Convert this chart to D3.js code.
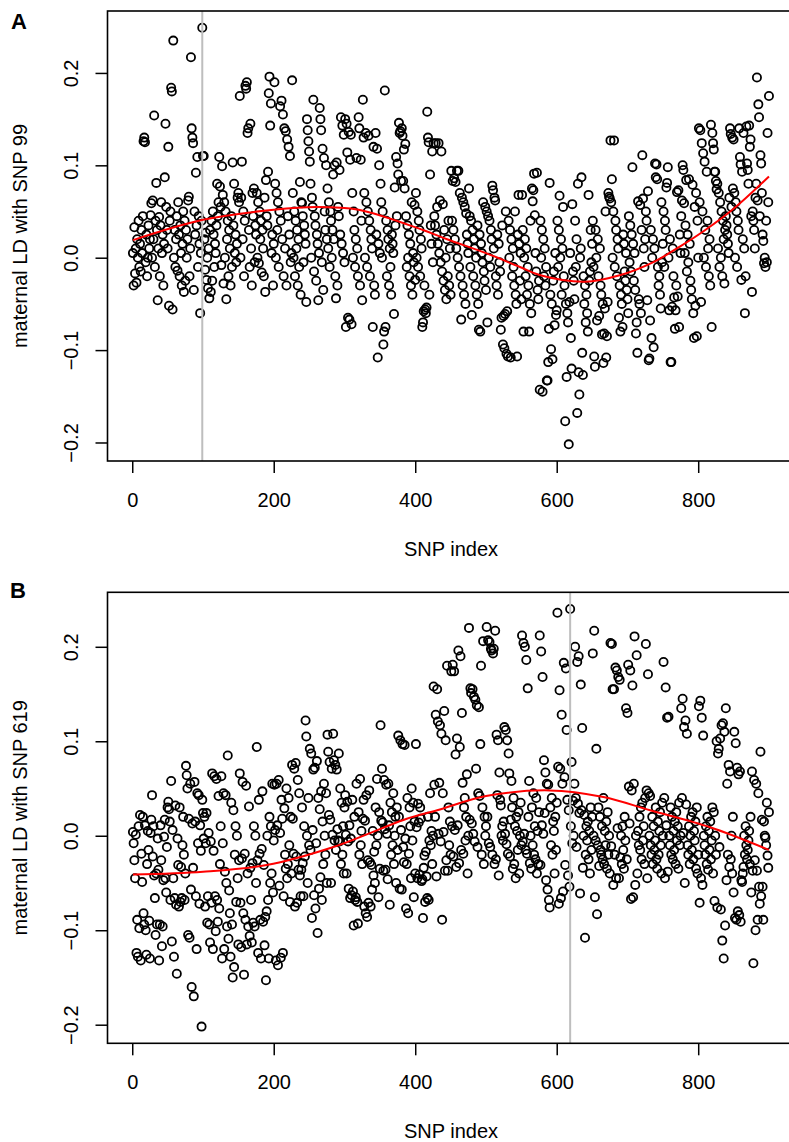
<!DOCTYPE html>
<html>
<head>
<meta charset="utf-8">
<script src="https://cdn.jsdelivr.net/npm/d3@7"></script>
<style>
  body { margin: 0; background: #fff; }
  text { font-family: "Liberation Sans", Arial, Helvetica, sans-serif; }
</style>
</head>
<body>
<svg id="fig" width="789" height="1142"></svg>
<script>
// Axis tick values shared by both panels
const xTicks = [0, 200, 400, 600, 800];
const yTicks = [-0.2, -0.1, 0, 0.1, 0.2];

// Focal SNPs (vertical reference lines)
const focalA = 99;
const focalB = 619;

// Panel A: maternal LD of every SNP (index 1..900) with SNP 99
const ldA = [
  0.005,-0.03,0.033,-0.017,0.01,-0.027,0.02,0.0,0.04,-0.01,0.015,-0.015,0.03,0.005,0.045,0.126,0.13,0.125,-0.005,0.025,-0.02,0.0,0.035,0.01,0.02,
  0.046,0.059,0.0,0.062,0.02,0.154,-0.01,0.04,0.081,0.03,-0.046,0.01,0.044,-0.02,0.035,0.06,0.005,0.025,-0.03,0.015,0.087,0.145,0.055,0.03,0.01,
  0.12,-0.052,0.04,0.05,0.184,0.18,-0.056,0.235,0.0,0.03,-0.01,0.02,0.045,-0.014,0.06,0.025,-0.02,0.035,0.005,-0.03,0.015,0.05,-0.037,0.04,-0.025,
  0.03,0.0,0.02,0.062,0.066,-0.02,0.01,0.217,0.14,0.13,0.124,-0.035,0.05,0.025,0.092,0.035,0.109,-0.01,0.045,0.015,-0.06,0.005,0.04,0.249,0.11,
  0.11,0.02,-0.013,0.027,-0.024,0.0,-0.033,0.01,-0.044,0.03,-0.037,0.04,-0.025,0.05,0.025,-0.01,0.015,0.005,0.035,0.08,0.045,0.06,0.109,0.077,0.055,
  -0.008,0.099,0.068,-0.028,0.06,0.0,0.05,-0.045,0.02,0.04,-0.02,0.03,0.01,-0.03,0.045,-0.01,0.103,0.035,0.08,0.005,0.025,-0.005,0.015,0.065,0.07,
  0.06,0.175,0.0,0.065,0.104,0.02,0.05,-0.02,0.04,0.186,0.183,0.19,0.135,0.14,0.03,-0.01,0.145,0.01,-0.03,0.07,0.045,0.075,-0.005,0.035,0.025,
  0.07,0.0,0.06,-0.006,0.05,0.02,0.04,-0.016,0.03,0.01,-0.02,0.065,-0.037,0.084,0.045,0.035,0.093,0.178,0.196,0.143,0.167,0.005,0.025,-0.03,0.015,
  0.19,0.08,0.0,0.07,0.03,0.06,-0.01,0.05,0.164,0.04,0.17,0.02,0.155,-0.02,0.14,0.01,0.137,-0.03,0.128,0.045,0.12,0.025,0.11,-0.005,0.005,
  0.192,0.07,0.0,0.05,-0.02,0.04,0.01,0.03,-0.03,0.02,-0.01,0.082,-0.04,0.06,0.059,0.045,-0.005,0.035,0.025,0.015,-0.048,0.15,0.138,0.126,0.115,
  0.104,0.08,0.0,0.065,0.055,0.171,-0.015,0.045,0.035,-0.025,0.025,0.015,-0.046,0.005,0.162,0.15,0.138,-0.005,0.118,-0.035,0.108,0.05,0.03,0.1,0.02,
  0.075,0.01,0.06,-0.01,0.05,0.04,0.0,0.03,0.09,0.02,0.1,-0.02,-0.044,0.103,-0.03,0.055,0.045,0.095,0.025,0.152,0.015,0.143,0.005,0.133,-0.005,
  0.15,-0.075,0.145,0.114,-0.065,0.136,-0.067,0.106,0.133,-0.072,0.07,0.0,0.05,0.03,-0.01,0.02,0.108,0.01,-0.02,0.152,0.14,-0.03,0.106,0.04,-0.046,
  0.171,0.13,0.07,0.0,0.135,0.06,-0.01,0.05,0.132,0.04,-0.02,0.03,0.02,0.01,-0.075,0.12,-0.03,-0.04,0.135,0.025,0.118,-0.108,0.015,0.1,0.005,
  0.08,0.06,0.0,0.05,-0.094,-0.08,0.181,-0.075,0.04,-0.02,0.03,0.02,-0.03,0.01,-0.01,-0.04,0.025,0.015,0.005,-0.061,0.076,0.035,0.109,0.045,0.102,
  0.09,0.146,0.135,0.137,0.083,0.14,0.132,0.083,0.117,0.075,0.123,0.045,-0.01,0.035,0.0,0.025,-0.02,0.015,-0.03,0.06,-0.04,0.005,-0.005,0.057,-0.024,
  0.07,0.0,0.05,-0.01,0.04,0.03,-0.02,0.02,0.01,-0.075,-0.07,-0.058,-0.03,-0.056,-0.06,-0.054,0.158,0.13,0.125,-0.04,0.09,0.035,0.015,0.115,-0.005,
  0.124,0.045,0.035,0.124,0.025,0.055,0.015,0.124,0.005,0.062,-0.005,0.115,-0.015,0.058,-0.025,0.03,-0.035,0.0,-0.045,0.02,-0.02,0.04,-0.03,0.01,-0.04,
  0.094,0.04,0.083,0.03,0.086,0.02,0.082,0.01,0.094,0.0,0.094,-0.01,0.07,-0.02,-0.067,0.065,-0.03,0.06,-0.04,0.055,-0.05,0.048,0.025,0.015,0.005,
  0.075,0.045,-0.01,0.04,-0.062,0.03,-0.02,0.02,0.01,-0.03,0.0,-0.04,0.035,-0.05,-0.078,0.025,-0.08,0.015,0.005,-0.005,0.06,-0.015,-0.025,0.055,-0.035,
  0.05,-0.07,0.045,0.0,0.04,-0.01,0.03,0.02,0.078,0.073,0.01,0.065,0.062,-0.02,-0.03,0.025,-0.04,0.015,-0.005,-0.015,-0.078,-0.065,0.035,-0.094,-0.063,
  -0.098,-0.061,0.05,-0.104,-0.058,-0.107,0.04,0.0,0.03,-0.108,0.02,-0.02,0.01,-0.01,-0.03,0.05,-0.04,-0.05,-0.107,0.025,0.068,0.015,-0.025,0.005,-0.045,
  0.068,0.03,-0.08,0.0,0.02,-0.02,0.01,-0.04,-0.01,-0.03,-0.08,-0.05,0.04,-0.06,0.075,0.061,0.073,0.091,0.046,0.005,-0.015,0.092,-0.035,-0.045,-0.025,
  -0.143,0.04,0.0,0.03,-0.145,0.02,-0.02,0.01,-0.03,-0.01,-0.133,-0.133,-0.113,-0.077,0.081,-0.04,-0.099,-0.05,-0.11,-0.025,-0.015,-0.073,0.005,-0.062,-0.057,
  0.04,-0.01,0.03,0.067,0.0,0.02,-0.04,0.01,0.055,-0.02,-0.03,-0.177,-0.05,-0.129,-0.06,-0.07,-0.202,-0.048,0.005,-0.087,-0.12,0.058,-0.015,-0.025,-0.045,
  0.04,-0.01,0.02,-0.168,0.08,-0.124,-0.148,0.0,0.01,0.087,-0.103,-0.127,-0.02,-0.05,-0.03,-0.07,-0.04,-0.06,-0.08,0.068,-0.025,-0.015,0.03,-0.005,0.015,
  0.04,-0.01,-0.107,-0.118,0.03,0.0,-0.068,0.02,-0.02,-0.063,0.01,-0.03,-0.04,-0.083,-0.05,-0.114,-0.082,-0.055,0.05,-0.108,-0.085,-0.048,0.07,0.066,0.064,
  0.127,0.06,0.085,0.0,0.05,0.127,-0.01,0.04,0.03,-0.02,0.02,0.01,-0.065,-0.03,-0.08,-0.04,-0.05,-0.075,0.025,0.015,-0.015,-0.025,0.005,-0.035,-0.045,
  -0.06,0.045,-0.005,0.035,-0.015,0.025,0.098,0.015,-0.025,0.005,-0.035,-0.082,-0.07,-0.103,0.061,-0.045,-0.05,0.057,-0.06,0.03,0.111,0.064,0.01,-0.01,0.02,
  0.05,0.04,-0.046,0.072,-0.111,-0.109,-0.068,0.03,-0.087,0.0,0.02,-0.097,0.01,0.102,0.087,0.101,0.085,-0.01,-0.03,-0.02,-0.04,-0.055,0.06,-0.005,0.015,
  0.05,-0.01,0.04,0.03,0.076,0.081,0.098,0.0,-0.057,0.02,-0.113,-0.113,-0.053,0.01,-0.02,-0.043,-0.077,-0.057,-0.03,0.071,-0.042,0.073,-0.075,0.025,0.005,
  0.045,0.062,0.1,0.095,0.059,0.005,0.035,0.084,-0.015,0.025,-0.005,0.085,0.015,-0.025,-0.035,-0.045,0.079,-0.06,-0.087,0.055,-0.052,0.07,-0.085,0.04,0.0,
  0.14,0.06,0.138,-0.048,0.124,0.05,0.113,0.0,0.104,0.03,-0.01,0.093,0.04,0.01,-0.02,0.02,-0.03,0.144,-0.075,0.135,0.124,0.117,0.093,0.093,0.083,
  0.074,0.08,0.01,0.07,-0.01,0.06,0.0,0.05,-0.02,0.04,0.02,-0.028,0.03,0.045,0.035,0.025,0.015,0.005,0.065,0.14,0.134,0.055,0.13,0.075,0.128,
  0.07,0.0,0.06,0.05,-0.01,0.04,0.03,0.14,0.109,0.101,-0.024,0.093,0.02,0.135,0.01,-0.06,-0.02,0.142,0.102,0.095,0.08,0.143,0.12,0.128,0.045,
  -0.037,0.05,0.04,0.03,0.01,0.065,0.08,0.195,0.062,0.166,0.152,0.045,0.111,0.102,0.07,0.025,0.018,-0.006,0.0,-0.01,0.04,-0.005,0.135,0.06,0.175
];

// Panel B: maternal LD of every SNP (index 1..900) with SNP 619
const ldB = [
  0.004,-0.008,-0.026,-0.045,0.001,-0.124,-0.089,-0.128,0.01,-0.098,0.022,-0.132,-0.019,-0.049,0.02,-0.082,-0.094,0.011,-0.1,-0.126,-0.03,0.005,-0.015,-0.09,-0.13,
  0.003,0.017,0.043,-0.022,0.01,-0.042,-0.066,-0.105,-0.04,-0.094,-0.003,-0.036,-0.132,-0.094,0.011,-0.026,-0.117,-0.096,-0.047,-0.001,0.017,-0.045,-0.06,-0.012,0.03,
  0.036,0.028,0.015,-0.068,0.058,-0.112,0.006,-0.045,-0.128,-0.066,0.032,-0.073,-0.146,-0.003,-0.031,-0.075,0.03,-0.07,-0.033,-0.066,-0.01,0.02,-0.02,-0.068,-0.04,
  0.074,0.064,0.05,-0.105,0.018,-0.108,0.055,-0.057,-0.16,0.013,-0.034,-0.17,0.057,0.015,-0.064,-0.12,0.045,-0.008,0.043,-0.072,0.011,-0.016,-0.202,0.038,0.024,
  -0.003,0.02,-0.075,-0.008,0.024,-0.092,-0.064,0.003,-0.094,-0.113,-0.006,-0.071,0.066,-0.12,-0.016,0.063,-0.064,-0.101,0.06,-0.068,-0.091,0.042,-0.077,-0.03,0.01,
  0.063,-0.13,-0.008,0.045,-0.12,-0.038,0.043,-0.05,-0.096,0.085,-0.109,-0.058,-0.082,-0.128,0.035,-0.094,-0.15,0.027,-0.139,-0.02,0.01,-0.07,0.0,-0.045,-0.115,
  -0.026,0.066,-0.071,-0.118,-0.024,0.057,-0.082,-0.147,-0.019,-0.089,0.053,-0.115,-0.04,-0.096,0.031,-0.106,-0.034,-0.068,-0.113,-0.029,-0.092,0.01,-0.096,0.0,-0.05,
  0.094,-0.026,-0.124,0.038,-0.019,-0.089,-0.13,-0.014,0.047,-0.091,-0.031,-0.116,-0.086,-0.153,-0.08,0.0,-0.068,-0.13,0.02,-0.05,0.01,-0.04,0.055,-0.06,-0.005,
  0.054,0.006,-0.132,0.055,0.011,-0.137,0.059,-0.053,0.003,-0.129,0.038,0.018,-0.124,-0.064,0.029,-0.02,-0.035,0.05,-0.045,-0.03,0.04,-0.01,-0.07,0.02,-0.04,
  0.075,0.018,-0.019,0.071,-0.075,0.077,-0.022,-0.071,0.059,-0.036,0.045,-0.042,-0.064,-0.036,0.03,-0.029,-0.064,0.01,-0.022,0.122,0.105,0.0,-0.05,0.04,-0.01,
  0.092,-0.015,0.087,-0.087,0.006,0.07,-0.063,0.072,-0.077,-0.008,0.079,-0.103,0.04,-0.056,0.028,-0.044,0.047,-0.068,0.015,-0.03,0.055,0.0,-0.02,0.045,-0.05,
  0.107,0.089,0.022,0.078,0.017,-0.05,0.071,0.001,0.108,0.08,-0.005,0.075,-0.015,0.07,0.007,-0.005,0.087,-0.006,0.05,-0.03,0.035,-0.02,0.01,-0.04,0.03,
  0.043,0.001,-0.04,0.036,-0.006,-0.056,0.011,-0.066,-0.003,-0.063,0.038,-0.059,-0.095,0.02,-0.068,-0.065,0.055,-0.07,-0.093,0.025,-0.02,0.06,-0.01,0.005,-0.03,
  0.018,0.038,-0.075,0.016,-0.082,0.043,-0.086,-0.026,-0.071,0.048,-0.028,-0.075,-0.031,-0.057,0.005,-0.042,-0.017,-0.05,0.03,-0.01,0.06,0.0,-0.065,0.025,-0.035,
  0.117,0.016,0.071,0.014,-0.037,0.059,0.007,-0.036,0.054,0.002,-0.046,0.055,0.011,-0.073,0.035,-0.02,0.025,-0.01,0.045,-0.03,0.0,0.02,-0.05,0.03,-0.015,
  0.106,0.02,-0.056,0.101,0.006,-0.057,0.097,-0.012,-0.028,0.096,-0.003,-0.077,-0.03,0.04,-0.082,-0.019,0.03,0.01,-0.045,0.05,-0.005,0.035,-0.065,0.015,-0.04,
  0.097,0.009,-0.045,0.034,0.014,-0.041,0.03,0.018,-0.048,-0.046,-0.087,-0.034,-0.021,-0.07,-0.017,-0.043,-0.066,0.02,-0.068,-0.005,0.045,-0.01,0.005,-0.03,0.0,
  0.158,0.054,0.02,0.128,-0.043,0.155,0.121,0.002,0.056,0.117,-0.006,0.108,-0.089,0.045,0.004,0.132,-0.037,0.101,-0.026,0.18,-0.037,0.03,-0.01,0.015,-0.02,
  0.174,0.01,0.181,-0.022,0.174,0.006,0.086,-0.033,0.103,0.011,0.196,-0.029,0.094,0.19,-0.015,0.13,0.056,-0.019,0.03,0.04,-0.005,0.02,0.065,-0.04,0.0,
  0.22,0.017,0.156,0.151,0.013,0.155,0.002,0.147,-0.006,0.144,0.071,0.138,-0.012,0.045,0.136,0.042,0.097,0.18,-0.02,0.03,0.206,-0.03,0.02,0.0,0.01,
  0.221,0.02,0.207,-0.008,0.205,-0.012,0.198,0.196,-0.02,0.193,0.198,-0.03,0.217,-0.025,0.107,0.043,0.101,-0.042,0.067,0.038,0.032,0.0,0.01,-0.005,0.015,
  0.115,0.002,0.112,-0.009,0.101,-0.019,0.087,0.066,-0.022,0.017,0.058,0.03,-0.035,0.04,-0.03,0.01,-0.045,0.02,0.005,-0.015,0.025,-0.04,0.0,0.035,-0.01,
  0.212,-0.006,0.204,0.002,0.2,-0.015,0.186,-0.019,0.156,0.02,0.058,-0.029,0.0,-0.035,0.03,-0.01,0.045,-0.02,0.01,-0.025,0.04,-0.04,0.005,-0.03,0.025,
  0.212,-0.031,0.195,0.011,0.168,0.002,0.08,0.024,0.067,-0.047,0.055,-0.057,0.054,-0.068,-0.076,0.03,-0.01,0.04,-0.02,0.015,0.005,-0.04,0.02,-0.015,0.035,
  0.236,0.073,-0.072,0.154,0.071,-0.066,0.128,0.055,-0.059,0.183,0.062,-0.031,0.177,0.112,0.038,-0.042,0.027,-0.054,0.24,0.01,0.078,-0.008,0.037,0.0,0.055,
  0.2,0.04,-0.012,0.184,0.034,0.19,0.024,-0.061,0.16,0.027,0.114,-0.034,0.0,0.022,-0.108,-0.02,0.01,-0.005,0.015,-0.025,0.005,-0.04,0.03,-0.015,0.02,
  0.193,0.0,0.217,-0.065,-0.005,0.092,-0.083,-0.01,0.03,-0.032,0.02,-0.015,-0.02,0.01,-0.025,0.04,-0.03,0.005,-0.01,0.015,-0.035,0.025,-0.02,0.0,-0.04,
  0.204,-0.011,0.203,0.155,-0.052,0.155,-0.02,0.178,-0.045,0.175,0.008,0.168,-0.045,0.165,-0.023,0.0,-0.03,0.01,-0.015,-0.035,0.02,-0.005,0.135,-0.025,0.13,
  0.181,0.052,0.013,0.175,-0.067,0.048,0.159,-0.065,0.055,0.211,-0.052,0.0,0.191,-0.04,0.005,-0.01,0.02,-0.015,0.03,-0.025,0.035,-0.005,0.01,-0.03,0.04,
  0.203,0.048,-0.045,0.171,0.045,0.0,0.042,-0.01,-0.02,0.02,-0.03,0.01,-0.015,-0.005,0.03,-0.025,-0.035,0.015,-0.02,0.005,0.025,-0.01,-0.04,0.035,0.0,
  0.184,0.04,-0.045,0.157,0.011,0.125,-0.038,0.126,0.0,-0.01,0.03,-0.02,0.02,-0.025,0.005,-0.015,0.015,-0.03,0.025,-0.005,0.01,-0.035,0.035,-0.01,0.0,
  0.135,0.04,0.145,0.003,0.115,-0.05,0.122,0.033,0.108,-0.01,-0.02,0.01,-0.03,0.0,0.02,-0.015,0.025,-0.025,0.005,-0.005,0.015,-0.035,0.03,-0.04,-0.02,
  0.137,-0.071,0.143,-0.045,0.125,-0.052,0.106,0.0,-0.01,-0.02,0.01,-0.03,0.02,-0.036,0.005,-0.015,0.015,-0.025,-0.005,0.03,-0.04,0.025,-0.069,0.0,-0.02,
  0.1,-0.076,0.087,0.092,-0.012,0.103,-0.078,0.117,-0.111,0.119,-0.13,0.11,-0.095,0.135,-0.047,0.055,-0.02,0.075,-0.033,0.068,-0.025,0.0,-0.04,0.02,-0.06,
  0.11,-0.087,0.098,-0.089,0.072,-0.08,0.065,-0.084,0.068,-0.091,-0.047,-0.049,-0.04,-0.033,0.0,-0.02,0.01,-0.01,-0.025,-0.015,-0.005,0.005,-0.03,0.02,-0.06,
  0.068,-0.037,-0.135,0.059,-0.026,-0.1,0.055,-0.037,-0.089,0.045,-0.054,-0.072,0.089,-0.064,0.017,-0.054,-0.089,0.015,0.0,-0.002,-0.01,0.035,-0.021,-0.034,0.025
];

// Smoothed trend (red curve) knots: SNP index and LD
const trendAx = [1, 100, 200, 260, 320, 411, 445, 500, 548, 577, 640, 689, 736, 774, 810, 850, 900];
const trendAy = [0.019, 0.041, 0.052, 0.055, 0.052, 0.03, 0.02, 0.005, -0.01, -0.019, -0.026, -0.019, -0.005, 0.012, 0.03, 0.053, 0.088];
const trendBx = [1, 100, 190, 280, 350, 388, 431, 500, 590, 666, 732, 817, 900];
const trendBy = [-0.041, -0.038, -0.031, -0.013, 0.007, 0.018, 0.027, 0.042, 0.048, 0.041, 0.027, 0.009, -0.015];

const svg = d3.select("#fig");
const minus = v => (v < 0 ? "\u2212" : "") + Math.abs(v).toFixed(1);

// R-style axis range: data range extended by 4% on each side
function padded(ext) {
  const d = (ext[1] - ext[0]) * 0.04;
  return [ext[0] - d, ext[1] + d];
}

function drawPanel(cfg) {
  const g = svg.append("g");
  const left = 107.5, right = 794.4;
  const n = cfg.ld.length;

  const x = d3.scaleLinear().domain(padded([1, n])).range([left, right]);
  const y = d3.scaleLinear().domain(padded(d3.extent(cfg.ld))).range([cfg.bottom, cfg.top]);

  // points
  g.append("g").selectAll("circle")
    .data(cfg.ld)
    .join("circle")
    .attr("cx", (d, i) => x(i + 1))
    .attr("cy", d => y(d))
    .attr("r", 4.1)
    .attr("fill", "none")
    .attr("stroke", "#000")
    .attr("stroke-width", 1.8);

  // focal SNP marker
  g.append("line")
    .attr("x1", x(cfg.focal)).attr("x2", x(cfg.focal))
    .attr("y1", cfg.top).attr("y2", cfg.bottom)
    .attr("stroke", "#bebebe")
    .attr("stroke-width", 2);

  // smoothed trend
  const knots = cfg.tx.map((v, i) => [v, cfg.ty[i]]);
  g.append("path")
    .datum(knots)
    .attr("fill", "none")
    .attr("stroke", "#ff0000")
    .attr("stroke-width", 2)
    .attr("d", d3.line().x(d => x(d[0])).y(d => y(d[1])).curve(d3.curveCatmullRom.alpha(0.5)));

  // plot frame
  g.append("rect")
    .attr("x", left).attr("y", cfg.top)
    .attr("width", right - left).attr("height", cfg.bottom - cfg.top)
    .attr("fill", "none").attr("stroke", "#000").attr("stroke-width", 1.6);

  // x axis
  const xa = g.append("g")
    .attr("transform", `translate(0,${cfg.bottom})`)
    .call(d3.axisBottom(x).tickValues(xTicks).tickSize(12).tickFormat(d3.format("d")));
  xa.select(".domain").remove();
  xa.selectAll("line").attr("stroke", "#000").attr("stroke-width", 1.5);
  xa.selectAll("text")
    .attr("y", 0).attr("dy", null)
    .attr("transform", "translate(0,46)")
    .attr("font-size", 20).attr("fill", "#000")
    .attr("font-family", "Liberation Sans, Arial, sans-serif");

  // y axis (labels parallel to the axis)
  const ya = g.append("g")
    .attr("transform", `translate(${left},0)`)
    .call(d3.axisLeft(y).tickValues(yTicks).tickSize(12).tickFormat(minus));
  ya.select(".domain").remove();
  ya.selectAll("line").attr("stroke", "#000").attr("stroke-width", 1.5);
  ya.selectAll("text")
    .attr("x", 0).attr("y", -29.5).attr("dy", null)
    .attr("text-anchor", "middle")
    .attr("transform", "rotate(-90)")
    .attr("font-size", 20).attr("fill", "#000")
    .attr("font-family", "Liberation Sans, Arial, sans-serif");

  // axis titles
  g.append("text")
    .attr("x", (left + right) / 2).attr("y", cfg.bottom + 95)
    .attr("text-anchor", "middle").attr("font-size", 20)
    .text("SNP index");
  const cy = (cfg.top + cfg.bottom) / 2;
  g.append("text")
    .attr("transform", `translate(27,${cy}) rotate(-90)`)
    .attr("text-anchor", "middle").attr("font-size", 20)
    .text(cfg.ylab);

  // panel letter
  g.append("text")
    .attr("x", cfg.lx).attr("y", cfg.ly)
    .attr("font-size", 22).attr("font-weight", "bold")
    .text(cfg.letter);
}

drawPanel({ ld: ldA, focal: focalA, tx: trendAx, ty: trendAy, top: 11, bottom: 461,
  ylab: "maternal LD with SNP 99", letter: "A", lx: 11, ly: 29 });
drawPanel({ ld: ldB, focal: focalB, tx: trendBx, ty: trendBy, top: 592.3, bottom: 1043.3,
  ylab: "maternal LD with SNP 619", letter: "B", lx: 10, ly: 598 });
</script>
</body>
</html>
